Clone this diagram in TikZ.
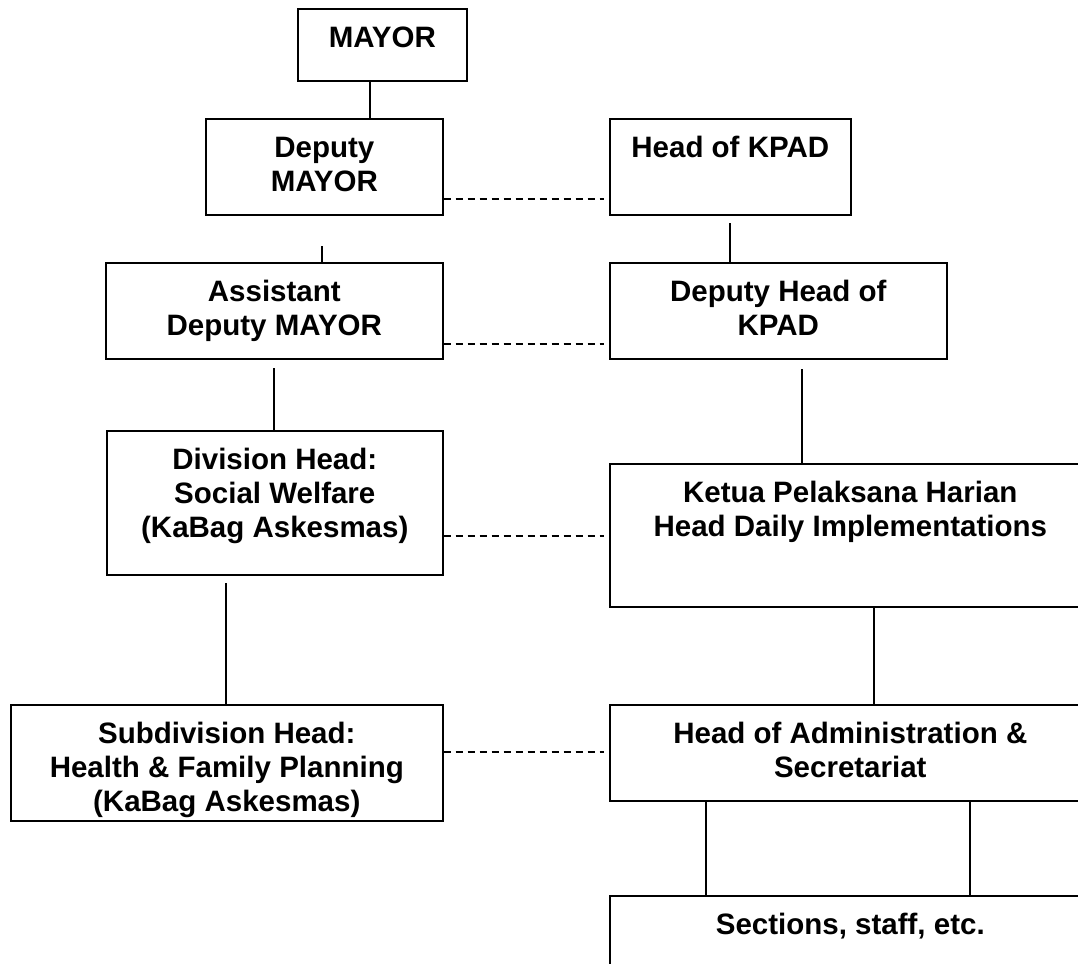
\documentclass[tikz,border=0pt]{standalone}
\usepackage{fontspec}
\setmainfont{Liberation Sans}
\newcommand{\bxt}[3]{\parbox[c][#2pt][t]{#1pt}{\centering\fontsize{29.5}{34}\selectfont\bfseries\rule{0pt}{39pt}#3}}
\begin{document}
\begin{tikzpicture}[x=1pt,y=-1pt,
  orgbox/.style={draw, line width=1.6pt, inner sep=0pt, anchor=north west},
  link/.style={line width=1.6pt},
  peer/.style={line width=1.6pt, dash pattern=on 7pt off 5pt}]
\useasboundingbox (0,0) rectangle (1078,963);
% boxes
\node[orgbox] (mayor)  at (297,8)   {\bxt{169}{72}{MAYOR}};
\node[orgbox] (depm)   at (205,118) {\bxt{237}{96}{Deputy\\MAYOR}};
\node[orgbox] (hkpad)  at (609,118) {\bxt{241}{96}{Head of KPAD}};
\node[orgbox] (asst)   at (105,262) {\bxt{337}{96}{Assistant\\Deputy MAYOR}};
\node[orgbox] (dhkpad) at (609,262) {\bxt{337}{96}{Deputy Head of\\KPAD}};
\node[orgbox] (div)    at (106,430) {\bxt{336}{144}{Division Head:\\Social Welfare\\(KaBag Askesmas)}};
\node[orgbox] (ketua)  at (609,463) {\bxt{481}{143}{Ketua Pelaksana Harian\\Head Daily Implementations}};
\node[orgbox] (sub)    at (10,704)  {\bxt{432}{116}{Subdivision Head:\\Health \& Family Planning\\(KaBag Askesmas)}};
\node[orgbox] (admin)  at (609,704) {\bxt{481}{96}{Head of Administration \&\\Secretariat}};
\node[orgbox] (sect)   at (609,895) {\bxt{481}{100}{Sections, staff, etc.}};
% free ends and x positions
\coordinate (xa) at (370,0);
\coordinate (s1) at (322,246);
\coordinate (s2) at (730,223);
\coordinate (s3) at (274,368);
\coordinate (s4) at (802,369);
\coordinate (s5) at (226,583);
\coordinate (xk) at (874,0);
\coordinate (xl) at (706,0);
\coordinate (xr) at (970,0);
\coordinate (d1) at (604,199);
\coordinate (d2) at (604,344);
\coordinate (d3) at (604,536);
\coordinate (d4) at (604,752);
% solid connectors
\draw[link] (xa |- mayor.south) -- (xa |- depm.north);
\draw[link] (s1) -- (s1 |- asst.north);
\draw[link] (s2) -- (s2 |- dhkpad.north);
\draw[link] (s3) -- (s3 |- div.north);
\draw[link] (s4) -- (s4 |- ketua.north);
\draw[link] (s5) -- (s5 |- sub.north);
\draw[link] (xk |- ketua.south) -- (xk |- admin.north);
\draw[link] (xl |- admin.south) -- (xl |- sect.north);
\draw[link] (xr |- admin.south) -- (xr |- sect.north);
% dashed peer links
\draw[peer] (depm.east |- d1) -- (d1);
\draw[peer] (asst.east |- d2) -- (d2);
\draw[peer] (div.east |- d3) -- (d3);
\draw[peer] (sub.east |- d4) -- (d4);
\end{tikzpicture}
\end{document}
